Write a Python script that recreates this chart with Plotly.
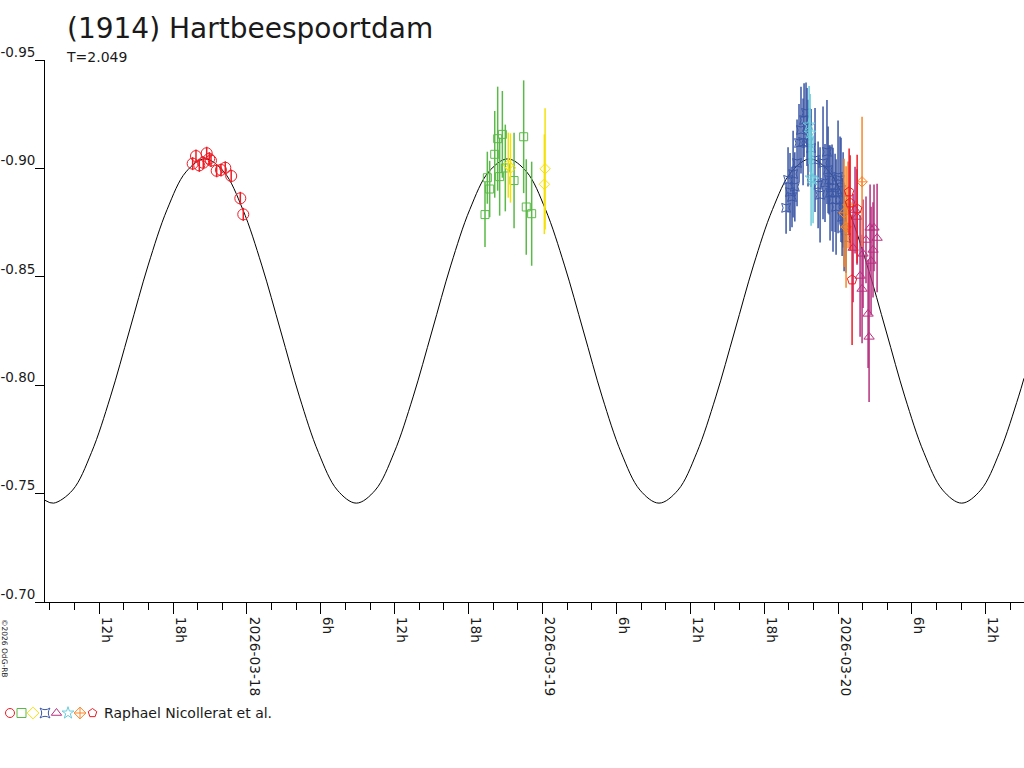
import pandas as pd
import plotly.graph_objects as go

T0 = pd.Timestamp("2026-03-17 00:00")

# ---------------- data: hours after 2026-03-17 00:00, reduced mag, error ----------------
red_h = [19.59, 19.86, 20.13, 20.45, 20.73, 20.94, 21.08, 21.54, 21.89, 22.24, 22.72, 23.46, 23.70]
red_v = [-0.9022, -0.9057, -0.9014, -0.9026, -0.9070, -0.9045, -0.9036, -0.8989, -0.8993, -0.9003, -0.8965, -0.8862, -0.8788]
red_e = [0.003, 0.003, 0.003, 0.003, 0.003, 0.003, 0.003, 0.003, 0.003, 0.003, 0.003, 0.003, 0.003]

green_h = [43.33, 43.52, 43.71, 44.12, 44.36, 44.52, 44.74, 44.98, 45.69, 46.47, 46.68, 47.12]
green_v = [-0.8787, -0.8957, -0.8905, -0.9065, -0.9137, -0.8962, -0.9157, -0.9002, -0.8944, -0.9146, -0.8822, -0.8791]
green_e = [0.015, 0.012, 0.013, 0.020, 0.024, 0.018, 0.020, 0.020, 0.022, 0.026, 0.022, 0.024]

yellow_h = [45.22, 45.40, 48.15, 48.21]
yellow_v = [-0.9015, -0.9002, -0.8927, -0.8998]
yellow_e = [0.015, 0.016, 0.023, 0.028]

blue_h = [67.78, 67.94, 68.10, 68.26, 68.35, 68.49, 68.67, 68.83, 68.99, 69.16, 69.24, 69.40,
          69.48, 69.56, 69.81, 70.13, 70.38, 70.54, 70.78, 70.94, 71.10, 71.19, 71.27, 71.35,
          71.51, 71.59, 71.76, 71.84, 72.00, 72.16, 72.24, 72.33, 72.41, 72.49, 72.65]
blue_v = [-0.8818, -0.8947, -0.8891, -0.8868, -0.8974, -0.8915, -0.9025, -0.9117, -0.9177, -0.9122,
          -0.9223, -0.9256, -0.9191, -0.9117, -0.9094, -0.9039, -0.8924, -0.8878, -0.9025, -0.8933,
          -0.9076, -0.8993, -0.8947, -0.8887, -0.8910, -0.8855, -0.8887, -0.8822, -0.8961, -0.8947,
          -0.8901, -0.8776, -0.8855, -0.8726, -0.8679]
blue_e = [0.012, 0.015, 0.018, 0.014, 0.020, 0.016, 0.020, 0.018, 0.020, 0.020, 0.017, 0.014,
          0.018, 0.020, 0.018, 0.024, 0.020, 0.022, 0.026, 0.018, 0.024, 0.020, 0.016, 0.022,
          0.020, 0.024, 0.018, 0.022, 0.026, 0.020, 0.024, 0.018, 0.022, 0.020, 0.016]

cyan_h = [69.65, 69.73, 69.81, 69.97]
cyan_v = [-0.9200, -0.9163, -0.8956, -0.8947]
cyan_e = [0.018, 0.018, 0.022, 0.020]

orange_h = [72.49, 72.65, 72.81, 73.95]
orange_v = [-0.8795, -0.8730, -0.8832, -0.8938]
orange_e = [0.025, 0.028, 0.020, 0.030]

pent_h = [72.90, 72.98, 73.14, 73.55]
pent_v = [-0.8892, -0.8841, -0.8486, -0.8813]
pent_e = [0.020, 0.022, 0.030, 0.025]

mag_h = [73.22, 73.38, 73.54, 73.79, 73.95, 74.03, 74.27, 74.44, 74.52, 74.60, 74.68, 74.84, 74.92, 75.17]
mag_v = [-0.8633, -0.8808, -0.8776, -0.8504, -0.8444, -0.8606, -0.8670, -0.8329, -0.8223, -0.8726,
         -0.8573, -0.8624, -0.8726, -0.8679]
mag_e = [0.025, 0.020, 0.022, 0.028, 0.025, 0.025, 0.020, 0.025, 0.030, 0.020, 0.025, 0.022, 0.020, 0.025]

# model curve (hours, mag)
model_h = [7.60, 8.30, 9.84, 11.37, 12.91, 14.45, 15.98, 17.52, 19.05, 20.59, 22.13, 23.66, 25.20,
           26.74, 28.27, 29.81, 31.34, 32.88, 34.42, 35.95, 37.49, 39.03, 40.56, 42.10, 43.63,
           45.17, 46.71, 48.24, 49.78, 51.32, 52.85, 54.39, 55.92, 57.46, 59.00, 60.53, 62.07,
           63.61, 65.14, 66.68, 68.21, 69.75, 71.29, 72.82, 74.36, 75.90, 77.43, 78.97, 80.50,
           82.04, 83.58, 85.11, 86.65, 87.10]
model_v = [-0.7469,
           -0.7456, -0.7516, -0.7689, -0.7946, -0.8250, -0.8554, -0.8811, -0.8984,
           -0.9044, -0.8984, -0.8811, -0.8554, -0.8250, -0.7946, -0.7689, -0.7516,
           -0.7456, -0.7516, -0.7689, -0.7946, -0.8250, -0.8554, -0.8811, -0.8984,
           -0.9044, -0.8984, -0.8811, -0.8554, -0.8250, -0.7946, -0.7689, -0.7516,
           -0.7456, -0.7516, -0.7689, -0.7946, -0.8250, -0.8554, -0.8811, -0.8984,
           -0.9044, -0.8984, -0.8811, -0.8554, -0.8250, -0.7946, -0.7689, -0.7516,
           -0.7456, -0.7516, -0.7689, -0.7946,
           -0.8032]

x_range_h = [7.6, 87.1]
tick_h = [12, 18, 24, 30, 36, 42, 48, 54, 60, 66, 72, 78, 84]
tick_text = ["12h", "18h", "2026-03-18", "6h", "12h", "18h", "2026-03-19", "6h", "12h", "18h",
             "2026-03-20", "6h", "12h"]
y_ticks = [-0.95, -0.90, -0.85, -0.80, -0.75, -0.70]
y_tick_text = ["-0.95", "-0.90", "-0.85", "-0.80", "-0.75", "-0.70"]

title_text = "(1914) Hartbeespoortdam"
sub_text = "T=2.049"
observer_text = "Raphael Nicollerat et al."
copyright_text = "©2026 OdG-RB"


def tt(hs):
    return [T0 + pd.Timedelta(hours=h) for h in hs]


FONT = "DejaVu Sans, Arial, sans-serif"
W, H = 1024, 768

series = [
    (red_h, red_v, red_e, "circle-open", "#ee1c25", 11),
    (green_h, green_v, green_e, "square-open", "#5ab947", 8),
    (yellow_h, yellow_v, yellow_e, "diamond-open", "#f5e10a", 8),
    (blue_h, blue_v, blue_e, "star-square-open", "#3a56a5", 8),
    (mag_h, mag_v, mag_e, "triangle-up-open", "#b5307f", 9),
    (cyan_h, cyan_v, cyan_e, "star-open", "#6dccdc", 9),
    (orange_h, orange_v, orange_e, "diamond-cross-open", "#f7862a", 8),
    (pent_h, pent_v, pent_e, "pentagon-open", "#ee1c25", 10),
]

fig = go.Figure()
fig.add_trace(go.Scatter(x=tt(model_h), y=model_v, mode="lines",
                         line=dict(color="black", width=1, shape="spline", smoothing=1.0),
                         hoverinfo="skip"))

for hs, vs, es, sym, col, sz in series:
    fig.add_trace(go.Scatter(
        x=tt(hs), y=vs, mode="markers",
        marker=dict(symbol=sym, size=sz, color=col, line=dict(color=col, width=1)),
        error_y=dict(type="data", array=es, visible=True, color=col, thickness=1.5, width=0),
    ))

# legend symbols row (drawn on a pixel-based overlay axis)
leg_x = [10, 21.5, 33, 45, 56.5, 68, 80, 92.5]
for (hs, vs, es, sym, col, sz), lx in zip(series, leg_x):
    fig.add_trace(go.Scatter(x=[lx], y=[713], xaxis="x2", yaxis="y2", mode="markers",
                             marker=dict(symbol=sym, size=9, color=col, line=dict(color=col, width=1)),
                             hoverinfo="skip"))

fig.update_layout(
    width=W, height=H,
    margin=dict(l=0, r=0, t=0, b=0),
    paper_bgcolor="white", plot_bgcolor="rgba(0,0,0,0)",
    showlegend=False,
    font=dict(family=FONT, color="#1a1a1a"),
    xaxis=dict(
        type="date", domain=[45 / W, 1], anchor="y",
        range=tt(x_range_h),
        showline=True, linecolor="black", linewidth=1,
        ticks="outside", ticklen=11, tickcolor="black", tickwidth=1,
        tickmode="array", tickvals=tt(tick_h), ticktext=tick_text,
        tickangle=90, tickfont=dict(size=13.7, family=FONT, color="#1a1a1a"),
        ticklabelshift=7,
        minor=dict(tickmode="linear", tick0=T0, dtick=2 * 3600 * 1000,
                   ticks="outside", ticklen=7, tickcolor="black", tickwidth=1, showgrid=False),
        showgrid=False, zeroline=False, automargin=False,
    ),
    yaxis=dict(
        domain=[1 - 602 / H, 1 - 60 / H], anchor="x",
        range=[-0.70, -0.95],
        showline=True, linecolor="black", linewidth=1,
        ticks="outside", ticklen=9, tickcolor="black", tickwidth=1,
        tickmode="array", tickvals=y_ticks, ticktext=y_tick_text,
        tickfont=dict(size=13.5, family=FONT, color="#1a1a1a"),
        ticklabelshift=8, ticklabelstandoff=-3,
        showgrid=False, zeroline=False, automargin=False,
    ),
    xaxis2=dict(domain=[0, 1], range=[0, W], anchor="y2", visible=False, fixedrange=True),
    yaxis2=dict(domain=[0, 1], range=[H, 0], anchor="x2", visible=False, fixedrange=True),
)

fig.add_annotation(text=title_text, x=65 / W, y=1 - 29 / H, xref="paper", yref="paper",
                   xanchor="left", yanchor="middle", showarrow=False,
                   font=dict(size=28, family=FONT, color="#1a1a1a"))
fig.add_annotation(text=sub_text, x=64 / W, y=1 - 57 / H, xref="paper", yref="paper",
                   xanchor="left", yanchor="middle", showarrow=False,
                   font=dict(size=14, family=FONT, color="#1a1a1a"))
fig.add_annotation(text=observer_text, x=102 / W, y=1 - 713 / H, xref="paper", yref="paper",
                   xanchor="left", yanchor="middle", showarrow=False,
                   font=dict(size=14, family=FONT, color="#1a1a1a"))
fig.add_annotation(text=copyright_text, x=5 / W, y=1 - 648 / H, xref="paper", yref="paper",
                   xanchor="center", yanchor="middle", showarrow=False, textangle=90,
                   font=dict(size=7.5, family=FONT, color="#1a1a1a"))

fig.write_html("out.html",
               config={"displayModeBar": False},
               post_script="document.body.style.margin='0';document.body.style.padding='0';"
                           "document.body.style.overflow='hidden';")
